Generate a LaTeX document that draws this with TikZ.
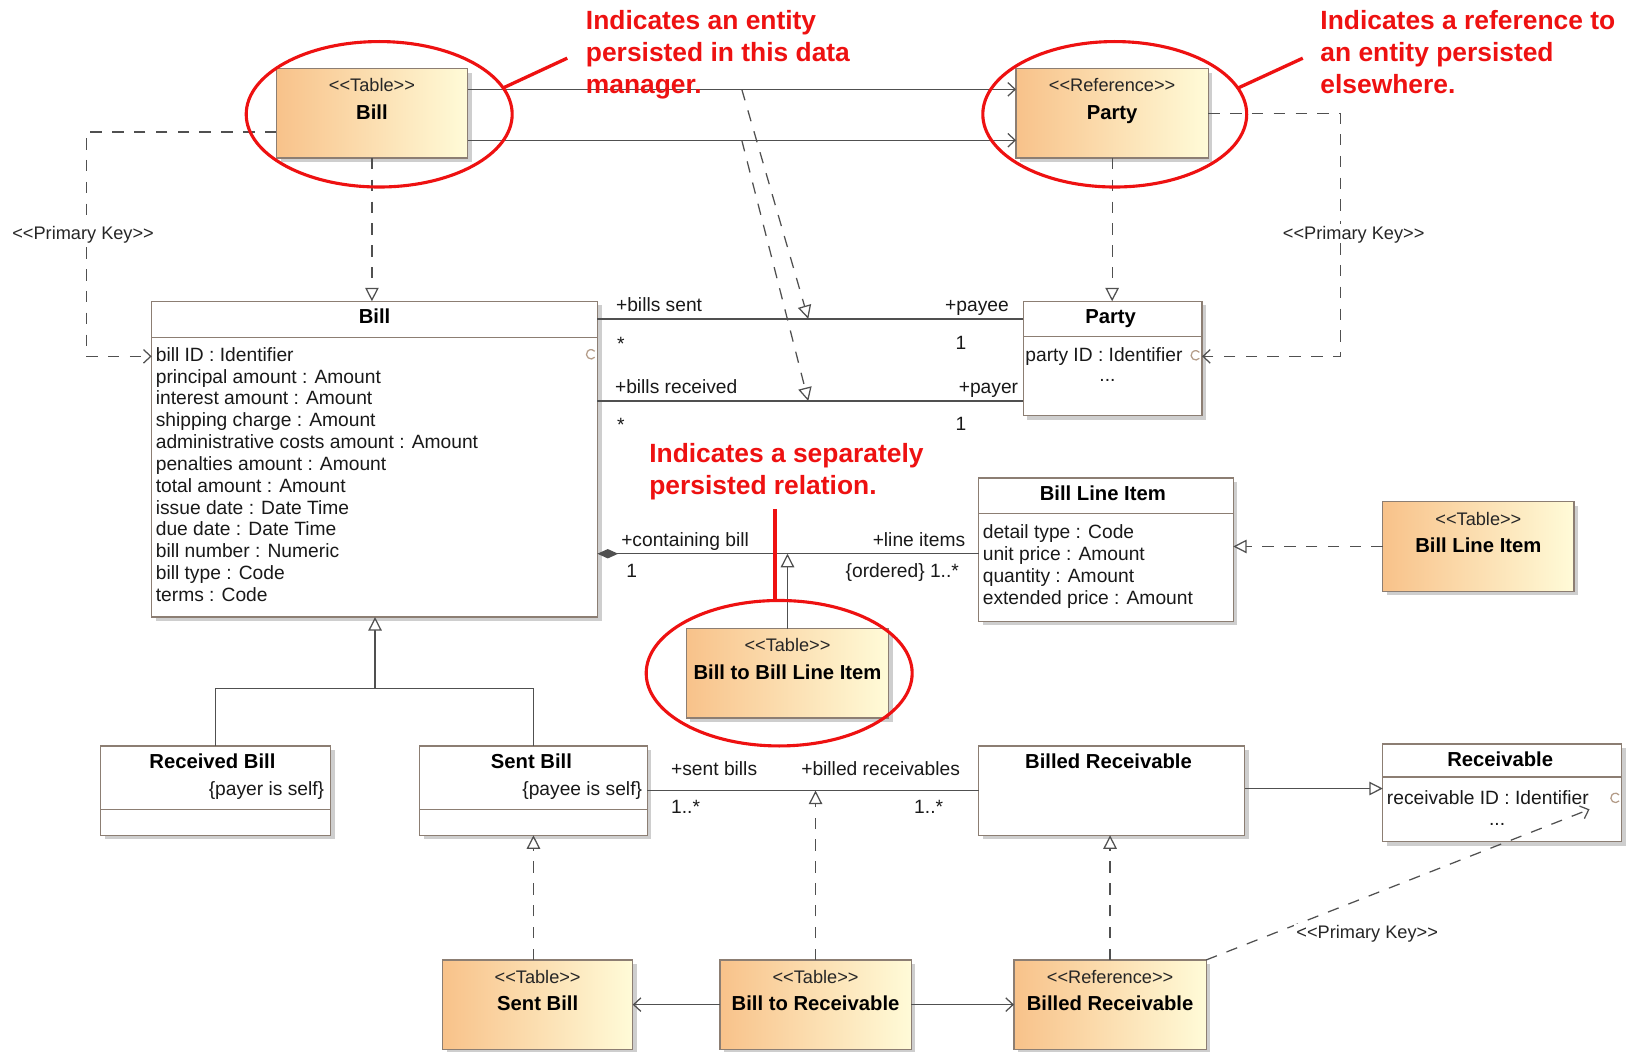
\documentclass[tikz,border=0pt]{standalone}
\usepackage{fontspec}
\newfontfamily\umlf{Liberation Sans}
\usetikzlibrary{arrows.meta,shadows,shapes.geometric,calc}
\definecolor{boxc}{HTML}{8C7E73}
\definecolor{linec}{HTML}{505050}
\definecolor{tabL}{HTML}{F8C28A}
\definecolor{tabR}{HTML}{FFFBD8}
\definecolor{pkc}{HTML}{B49C88}
\definecolor{notec}{HTML}{EE1111}
\newcommand\stereo[1]{<\kern0pt<#1>\kern0pt>}
\begin{document}
\begin{tikzpicture}[x=1pt,y=-1pt,
  every node/.style={inner sep=0pt,outer sep=0pt},
  lbl/.style={text height=15.5pt,text depth=2pt,font=\umlf\fontsize{18.5}{21}\selectfont,text=black!90},
  hdr/.style={text height=16pt,text depth=2pt,font=\umlf\bfseries\fontsize{19.5}{22}\selectfont},
  st/.style={text height=14.5pt,text depth=1.5pt,font=\umlf\fontsize{17.5}{20}\selectfont,text=black!85},
  pkl/.style={st,fill=white,inner xsep=2pt},
  note/.style={font=\umlf\bfseries\fontsize{25.4}{31}\selectfont,text=notec,align=left,anchor=north west},
  shad/.style={drop shadow={shadow xshift=4pt,shadow yshift=-4pt,fill=black!35,opacity=0.55}},
  tbl/.style={draw=boxc,line width=1.2pt,left color=tabL,right color=tabR,shad},
  cls/.style={draw=boxc,line width=1.3pt,fill=white,shad},
  con/.style={draw=linec,line width=1.2pt},
  dsh/.style={con,dash pattern=on 11pt off 10pt},
  stick/.style={-{Straight Barb[length=7pt,width=13pt]}},
  tri/.style={-{Triangle[length=13pt,width=13pt,fill=white]}},
  pkmark/.style={draw=pkc,line width=1.2pt},
  redl/.style={draw=notec,line width=3.2pt},
  ell/.style={ellipse,draw=notec,line width=3pt}
]
\useasboundingbox (0,0) rectangle (1568,1012);
\fill[white] (0,0) rectangle (1568,1012);

% ---------- table / reference boxes ----------
\newcommand\tabnode[6]{%
  \node[tbl,minimum width=#4pt,minimum height=86pt] (#1) at (#2,#3) {};
  \node[st] (#1s) at ($(#1.north)+(0,16)$) {\stereo{#5}};
  \node[hdr] (#1n) at ($(#1.north)+(0,42)$) {#6};
}
\tabnode{tbill}{358}{109}{184}{Table}{Bill}
\tabnode{rparty}{1070.5}{109}{185}{Reference}{Party}
\tabnode{tbli}{1423}{526}{184}{Table}{Bill Line Item}
\tabnode{tbbli}{758}{648}{195}{Table}{Bill to Bill Line Item}
\tabnode{tsent}{517.5}{967}{183}{Table}{Sent Bill}
\tabnode{tbtr}{785}{967}{184}{Table}{Bill to Receivable}
\tabnode{rbr}{1068.5}{967}{185}{Reference}{Billed Receivable}

% ---------- class boxes ----------
\node[cls,minimum width=429pt,minimum height=304pt] (bill) at (360.5,442) {};
\node[cls,minimum width=172pt,minimum height=110pt] (party) at (1071,345) {};
\node[cls,minimum width=245pt,minimum height=138pt] (bli) at (1064.5,529) {};
\node[cls,minimum width=221pt,minimum height=86pt] (recvbill) at (207.5,761) {};
\node[cls,minimum width=219pt,minimum height=86pt] (sentbill) at (513.5,761) {};
\node[cls,minimum width=256pt,minimum height=86pt] (billedrecv) at (1070,761) {};
\node[cls,minimum width=230pt,minimum height=94pt] (receivable) at (1446,763) {};

% compartment dividers
\draw[draw=boxc,line width=1.3pt] (bill.west |- 0,325) -- (bill.east |- 0,325);
\draw[draw=boxc,line width=1.3pt] (party.west |- 0,324) -- (party.east |- 0,324);
\draw[draw=boxc,line width=1.3pt] (bli.west |- 0,494) -- (bli.east |- 0,494);
\draw[draw=boxc,line width=1.3pt] (recvbill.west |- 0,779) -- (recvbill.east |- 0,779);
\draw[draw=boxc,line width=1.3pt] (sentbill.west |- 0,779) -- (sentbill.east |- 0,779);
\draw[draw=boxc,line width=1.3pt] (receivable.west |- 0,748) -- (receivable.east |- 0,748);

% class headers
\node[hdr] (billh) at ($(bill.north)+(0,14)$) {Bill};
\node[hdr] (partyh) at ($(party.north)+(-2,14)$) {Party};
\node[hdr] (blih) at ($(bli.north)+(-3,15)$) {Bill Line Item};
\node[hdr] (recvbillh) at ($(recvbill.north)+(-3,15)$) {Received Bill};
\node[hdr] (sentbillh) at ($(sentbill.north)+(-2,15)$) {Sent Bill};
\node[hdr] (billedrecvh) at ($(billedrecv.north)+(-3,15)$) {Billed Receivable};
\node[hdr] (receivableh) at ($(receivable.north)+(-2,15)$) {Receivable};

% attributes
\foreach \t [count=\i from 0] in {bill ID : Identifier,principal amount : Amount,interest amount : Amount,shipping charge : Amount,administrative costs amount : Amount,penalties amount : Amount,total amount : Amount,issue date : Date Time,due date : Date Time,bill number : Numeric,bill type : Code,terms : Code}
  \node[lbl,anchor=west] (ba\i) at (150,341+21*\i) {\t};
\foreach \t [count=\i from 0] in {detail type : Code,unit price : Amount,quantity : Amount,extended price : Amount}
  \node[lbl,anchor=west] (la\i) at (946,512+21*\i) {\t};
\node[lbl,anchor=west] (pa0) at (987,341) {party ID : Identifier};
\node[lbl] (pa1) at (1066,360) {...};
\node[lbl,anchor=west] (ra0) at (1335,768) {receivable ID : Identifier};
\node[lbl] (ra1) at (1441,788) {...};
\node[lbl,anchor=east] (rbc) at (312,759) {\{payer is self\}};
\node[lbl,anchor=east] (sbc) at (618,759) {\{payee is self\}};

% primary key markers
\draw[pkmark] (569,341) ++(40:4.5) arc[start angle=40,end angle=320,radius=4.5];
\draw[pkmark] (1151,342) ++(40:4.5) arc[start angle=40,end angle=320,radius=4.5];
\draw[pkmark] (1555,768) ++(40:4.5) arc[start angle=40,end angle=320,radius=4.5];

% ---------- connectors ----------
% table Bill to reference Party
\draw[con,stick] (tbill.east |- 0,86) -- (rparty.west |- 0,86);
\draw[con,stick] (tbill.east |- 0,135) -- (rparty.west |- 0,135);
\coordinate (d1a) at (714,86);
\coordinate (d1b) at (778,307);
\coordinate (d2a) at (714,135);
\coordinate (d2b) at (778,386);
\draw[dsh,tri] (d1a) -- (d1b);
\draw[dsh,tri] (d2a) -- (d2b);

% realizations of classes by tables
\draw[dsh,tri] (tbill.south) -- (tbill.south |- bill.north);
\draw[dsh,tri] (rparty.south) -- (rparty.south |- party.north);
\draw[dsh,tri] (tbli.west) -- (bli.east |- tbli.west);
\draw[dsh,tri] (sentbill.south |- tsent.north) -- (sentbill.south);
\draw[dsh,tri] (rbr.north) -- (rbr.north |- billedrecv.south);
\draw[dsh,tri] (tbtr.north) -- (tbtr.north |- sentbill.east);
\draw[con,tri] (tbbli.north) -- (tbbli.north |- 0,533);

% primary key dependencies
\coordinate (pk1) at (83,343);
\draw[dsh,stick] (tbill.west |- 0,127) -| (pk1) -- (bill.west |- pk1);
\node[pkl] (pk1l) at (80,224) {\stereo{Primary Key}};
\coordinate (pk2) at (1290,343);
\draw[dsh,stick] (rparty.east) -| (pk2) -- (party.east |- pk2);
\node[pkl] (pk2l) at (1303,224) {\stereo{Primary Key}};
\coordinate (pk3) at (1530,779);
\draw[dsh,stick] (rbr.north east) -- (pk3);
\node[pkl] (pk3l) at (1316,897) {\stereo{Primary Key}};

% associations
\draw[con] (bill.east |- 0,307) -- (party.west |- 0,307);
\draw[con] (bill.east |- 0,386) -- (party.west |- 0,386);
\draw[con,{Diamond[length=20pt,width=9pt]}-] (bill.east |- 0,533) -- (bli.west |- 0,533);
\draw[con] (sentbill.east) -- (billedrecv.west);

% generalizations
\coordinate (gj) at (361,663);
\draw[con] (recvbill.north) |- (gj) -| (sentbill.north);
\draw[con,tri] (gj) -- (gj |- bill.south);
\draw[con,tri] (billedrecv.east |- 0,759) -- (receivable.west |- 0,759);

% bottom table links
\draw[con,stick] (tbtr.west) -- (tsent.east);
\draw[con,stick] (tbtr.east) -- (rbr.west);

% association end labels
\node[lbl,anchor=west] (l1) at (593,293) {+bills sent};
\node[lbl,anchor=west] (l2) at (594,331) {*};
\node[lbl,anchor=east] (l3) at (971,293) {+payee};
\node[lbl] (l4) at (925,330) {1};
\node[lbl,anchor=west] (l5) at (592,372) {+bills received};
\node[lbl,anchor=west] (l6) at (594,409) {*};
\node[lbl,anchor=east] (l7) at (980,372) {+payer};
\node[lbl] (l8) at (925,408) {1};
\node[lbl,anchor=west] (l9) at (598,519) {+containing bill};
\node[lbl] (l10) at (608,549) {1};
\node[lbl,anchor=east] (l11) at (929,519) {+line items};
\node[lbl,anchor=east] (l12) at (923,549) {\{ordered\} 1..*};
\node[lbl,anchor=west] (l13) at (646,740) {+sent bills};
\node[lbl,anchor=west] (l14) at (646,776) {1..*};
\node[lbl,anchor=east] (l15) at (924,740) {+billed receivables};
\node[lbl,anchor=west] (l16) at (880,776) {1..*};

% ---------- annotations ----------
\node[ell,minimum width=256pt,minimum height=140pt] (e1) at (365,110) {};
\node[ell,minimum width=254pt,minimum height=140pt] (e2) at (1073,110) {};
\node[ell,minimum width=256pt,minimum height=140pt] (e3) at (750,648) {};
\node[note] (n1) at (564,10) {Indicates an entity\\persisted in this data\\manager.};
\node[note] (n2) at (1271,10) {Indicates a reference to\\an entity persisted\\elsewhere.};
\node[note] (n3) at (625,427) {Indicates a separately\\persisted relation.};
\coordinate (c1) at (546,56);
\coordinate (c2) at (1254,56);
\coordinate (c3) at (746,490);
\draw[redl] (e1.12) -- (c1);
\draw[redl] (e2.12) -- (c2);
\draw[redl] (c3) -- (c3 |- e3.north);
\end{tikzpicture}
\end{document}
